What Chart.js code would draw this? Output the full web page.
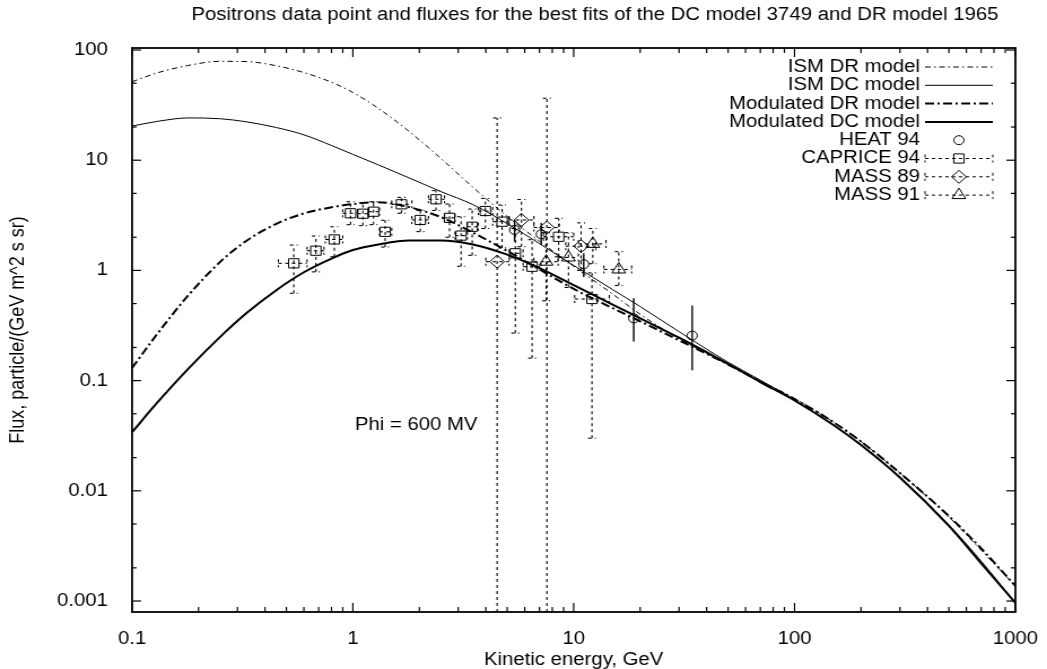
<!DOCTYPE html>
<html>
<head>
<meta charset="utf-8">
<script src="https://cdn.jsdelivr.net/npm/chart.js@4.4.0/dist/chart.umd.min.js"></script>
<style>
  html, body { margin: 0; padding: 0; background: #fff; }
  #chart { display: block; }
</style>
</head>
<body>
<canvas id="chart" width="927" height="669" style="width:1047px;height:669px"></canvas>
<script>
// model curves (kinetic energy in GeV, flux)
const energy = [0.1, 0.13, 0.18, 0.25, 0.33, 0.45, 0.6, 0.8, 1, 1.3, 1.8, 2.5, 3.5, 5, 7, 10, 15, 20, 30, 50, 70, 100, 150, 200, 300, 500, 700, 1000];
const ismDR = [51.5, 62, 72.5, 79, 78.5, 72, 62.4, 51, 41.2, 29.7, 18.2, 10.4, 5.67, 3.09, 1.84, 1.09, 0.61, 0.4, 0.24, 0.14, 0.099, 0.069, 0.042, 0.028, 0.0145, 0.0058, 0.0029, 0.00137];
const ismDC = [20.4, 22.5, 24.2, 23.8, 22.3, 19.8, 17, 13.6, 11.3, 9.1, 6.9, 5.2, 3.95, 2.66, 1.75, 1.11, 0.67, 0.47, 0.278, 0.147, 0.101, 0.067, 0.0395, 0.026, 0.0132, 0.0049, 0.0023, 0.00096];
const modDR = [0.13, 0.265, 0.596, 1.19, 1.86, 2.65, 3.29, 3.74, 4.0, 4.15, 3.75, 3.05, 2.2, 1.5, 1.02, 0.68, 0.455, 0.345, 0.232, 0.14, 0.098, 0.068, 0.042, 0.028, 0.0145, 0.0059, 0.003, 0.00137];
const modDC = [0.034, 0.063, 0.1285, 0.248, 0.41, 0.662, 0.962, 1.28, 1.53, 1.72, 1.87, 1.87, 1.72, 1.39, 1.05, 0.736, 0.49, 0.368, 0.245, 0.142, 0.097, 0.066, 0.0395, 0.026, 0.0132, 0.0048, 0.0022, 0.00096];

// HEAT 94
const heatE = [5.4, 7.13, 11.1, 18.7, 34.4];
const heatF = [2.33, 2.13, 1.14, 0.367, 0.256];
const heatFlo = [1.83, 1.7, 0.87, 0.226, 0.124];
const heatFhi = [2.87, 2.7, 1.43, 0.56, 0.48];

// CAPRICE 94
const capE = [0.54, 0.68, 0.824, 0.976, 1.11, 1.24, 1.40, 1.66, 2.02, 2.38, 2.74, 3.09, 3.47, 3.98, 4.74, 5.44, 6.48, 8.55, 12.1];
const capF = [1.16, 1.51, 1.91, 3.30, 3.27, 3.41, 2.24, 3.98, 2.87, 4.42, 3.0, 2.07, 2.49, 3.46, 2.77, 1.43, 1.08, 2.02, 0.55];
const capFlo = [0.62, 0.97, 1.33, 2.6, 2.55, 2.6, 1.63, 3.3, 2.25, 3.5, 2.0, 1.09, 1.37, 2.4, 1.6, 0.27, 0.16, 1.33, 0.03];
const capFhi = [1.70, 2.05, 2.49, 4.2, 4.1, 4.2, 2.85, 4.6, 3.5, 5.3, 4.0, 3.07, 3.6, 4.5, 3.92, 2.4, 1.9, 2.97, 0.95];
const capElo = [0.46, 0.62, 0.75, 0.9, 1.05, 1.18, 1.32, 1.5, 1.85, 2.2, 2.6, 2.9, 3.3, 3.7, 4.3, 5.1, 5.9, 7.3, 10.1];
const capEhi = [0.62, 0.74, 0.9, 1.05, 1.18, 1.32, 1.5, 1.85, 2.2, 2.6, 2.9, 3.3, 3.7, 4.3, 5.1, 5.9, 7.1, 10, 14.5];

// MASS 89 (lower bound 0 = bar reaches the bottom)
const m89E = [4.5, 5.8, 7.56, 10.8];
const m89F = [1.2, 2.87, 2.45, 1.66];
const m89Flo = [0, 1.64, 0, 1.0];
const m89Fhi = [24.2, 4.4, 36.5, 2.7];
const m89Elo = [4.0, 5.1, 6.6, 9.2];
const m89Ehi = [5.1, 6.6, 8.6, 12.6];

// MASS 91
const m91E = [7.5, 9.47, 12.2, 16.0];
const m91F = [1.2, 1.31, 1.74, 1.02];
const m91Flo = [0.53, 0.7, 1.15, 0.73];
const m91Fhi = [2.2, 2.2, 2.4, 1.48];
const m91Elo = [6.6, 8.5, 10.5, 13.7];
const m91Ehi = [8.5, 10.5, 14, 18.3];

const xTicks = [0.1, 1, 10, 100, 1000];
const xTickLabels = ['0.1', '1', '10', '100', '1000'];
const yTicks = [0.001, 0.01, 0.1, 1, 10, 100];
const yTickLabels = ['0.001', '0.01', '0.1', '1', '10', '100'];

const FONT = 'Liberation Sans, Arial, Helvetica, sans-serif';
const pts = (xs, ys) => xs.map((v, i) => ({ x: v, y: ys[i] }));

function curve(label, ys, width, dash) {
  return {
    label, data: pts(energy, ys), showLine: true, borderColor: '#000', backgroundColor: '#000',
    borderWidth: width, borderDash: dash, pointRadius: 0, cubicInterpolationMode: 'monotone'
  };
}
function points(label, xs, ys, style, r, err) {
  return Object.assign({
    label, data: pts(xs, ys), showLine: false, pointStyle: style, pointRadius: r,
    pointBorderColor: '#000', pointBackgroundColor: 'rgba(0,0,0,0)', pointBorderWidth: 1,
    borderColor: '#000', backgroundColor: 'rgba(0,0,0,0)'
  }, err);
}

// error bars, drawn through the scales
const errorBars = {
  id: 'errorBars',
  beforeDatasetsDraw(chart) {
    const { ctx, chartArea: a, scales: { x, y } } = chart;
    ctx.save();
    ctx.beginPath();
    ctx.rect(a.left, a.top, a.width, a.height);
    ctx.clip();
    ctx.strokeStyle = '#000';
    const seg = (x1, y1, x2, y2) => { ctx.beginPath(); ctx.moveTo(x1, y1); ctx.lineTo(x2, y2); ctx.stroke(); };
    chart.data.datasets.forEach(ds => {
      if (!ds.yLo) return;
      ctx.setLineDash(ds.errDash || []);
      ctx.lineWidth = ds.errWidth || 1;
      ds.data.forEach((p, i) => {
        const px = x.getPixelForValue(p.x), py = y.getPixelForValue(p.y);
        const y1 = y.getPixelForValue(ds.yLo[i]), y2 = y.getPixelForValue(ds.yHi[i]);
        seg(px, y1, px, y2);
        if (ds.caps) { seg(px - 3.5, y1, px + 3.5, y1); seg(px - 3.5, y2, px + 3.5, y2); }
        if (ds.xLo) {
          const x1 = x.getPixelForValue(ds.xLo[i]), x2 = x.getPixelForValue(ds.xHi[i]);
          seg(x1, py, x2, py);
          seg(x1, py - 4, x1, py + 4); seg(x2, py - 4, x2, py + 4);
        }
      });
    });
    ctx.restore();
  }
};

// border with inward ticks on all four sides
const frame = {
  id: 'frame',
  afterDatasetsDraw(chart) {
    const { ctx, chartArea: a, scales: { x, y } } = chart;
    const xMinor = [], yMinor = [];
    [0.1, 1, 10, 100].forEach(d => { for (let k = 2; k <= 9; k++) xMinor.push(d * k); });
    [0.001, 0.01, 0.1, 1, 10].forEach(d => { yMinor.push(d * 2, d * 5); });
    ctx.save();
    ctx.strokeStyle = '#000';
    ctx.lineWidth = 1.2;
    const seg = (x1, y1, x2, y2) => { ctx.beginPath(); ctx.moveTo(x1, y1); ctx.lineTo(x2, y2); ctx.stroke(); };
    xTicks.forEach(v => { const p = x.getPixelForValue(v); seg(p, a.bottom, p, a.bottom - 9); seg(p, a.top, p, a.top + 9); });
    xMinor.forEach(v => { const p = x.getPixelForValue(v); seg(p, a.bottom, p, a.bottom - 5); seg(p, a.top, p, a.top + 5); });
    yTicks.forEach(v => { const p = y.getPixelForValue(v); seg(a.left, p, a.left + 8, p); seg(a.right, p, a.right - 8, p); });
    yMinor.forEach(v => { const p = y.getPixelForValue(v); seg(a.left, p, a.left + 4, p); seg(a.right, p, a.right - 4, p); });
    ctx.lineWidth = 1.8;
    ctx.strokeRect(a.left, a.top, a.width, a.height);
    ctx.restore();
  }
};

function marker(ctx, style, cx, cy, r) {
  ctx.beginPath();
  if (style === 'circle') ctx.arc(cx, cy, r, 0, Math.PI * 2);
  else if (style === 'rect') { const s = r * Math.SQRT1_2; ctx.rect(cx - s, cy - s, 2 * s, 2 * s); }
  else if (style === 'rectRot') { ctx.moveTo(cx - r, cy); ctx.lineTo(cx, cy - r); ctx.lineTo(cx + r, cy); ctx.lineTo(cx, cy + r); ctx.closePath(); }
  else if (style === 'triangle') {
    ctx.moveTo(cx, cy - r); ctx.lineTo(cx + r * 0.866, cy + r * 0.5); ctx.lineTo(cx - r * 0.866, cy + r * 0.5); ctx.closePath();
  }
  ctx.stroke();
}

// gnuplot style key, text right aligned with the sample to its right
const key = {
  id: 'key',
  afterDraw(chart) {
    const { ctx } = chart;
    ctx.save();
    ctx.font = '18px ' + FONT;
    ctx.fillStyle = '#000';
    ctx.strokeStyle = '#000';
    ctx.textAlign = 'right';
    ctx.textBaseline = 'middle';
    const tx = 814.6, s1 = 819, s2 = 879, sc = 849;
    chart.data.datasets.forEach((ds, i) => {
      const yy = 67 + i * 18.3;
      ctx.fillText(ds.label, tx, yy);
      ctx.setLineDash([]);
      if (ds.showLine) {
        ctx.lineWidth = ds.borderWidth;
        ctx.setLineDash(ds.borderDash || []);
        ctx.beginPath(); ctx.moveTo(s1, yy); ctx.lineTo(s2, yy); ctx.stroke();
      } else {
        ctx.lineWidth = 1;
        if (ds.xLo) {
          ctx.setLineDash(ds.errDash);
          ctx.beginPath(); ctx.moveTo(s1, yy); ctx.lineTo(s2, yy); ctx.stroke();
          ctx.beginPath(); ctx.moveTo(s1, yy - 4); ctx.lineTo(s1, yy + 4); ctx.moveTo(s2, yy - 4); ctx.lineTo(s2, yy + 4); ctx.stroke();
          ctx.setLineDash([]);
        }
        marker(ctx, ds.pointStyle, sc, yy, ds.pointRadius);
      }
    });
    ctx.restore();
  }
};

const texts = {
  id: 'texts',
  afterDraw(chart) {
    const { ctx } = chart;
    ctx.save();
    ctx.font = '18px ' + FONT;
    ctx.fillStyle = '#000';
    ctx.textBaseline = 'middle';
    ctx.textAlign = 'center';
    ctx.fillText('Positrons data point and fluxes for the best fits of the DC model 3749 and DR model 1965', 526.8, 15);
    ctx.textAlign = 'left';
    ctx.fillText('Phi = 600 MV', 314.3, 425);
    ctx.restore();
  }
};

new Chart(document.getElementById('chart'), {
  type: 'scatter',
  data: {
    datasets: [
      curve('ISM DR model', ismDR, 1, [5, 3, 1.5, 3]),
      curve('ISM DC model', ismDC, 1, []),
      curve('Modulated DR model', modDR, 2, [8, 3, 2, 3]),
      curve('Modulated DC model', modDC, 2, []),
      points('HEAT 94', heatE, heatF, 'circle', 4.5, { yLo: heatFlo, yHi: heatFhi, caps: false, errDash: [], errWidth: 1.4 }),
      points('CAPRICE 94', capE, capF, 'rect', 6.5, { yLo: capFlo, yHi: capFhi, xLo: capElo, xHi: capEhi, caps: true, errDash: [3, 3], errWidth: 1.1 }),
      points('MASS 89', m89E, m89F, 'rectRot', 6.5, { yLo: m89Flo, yHi: m89Fhi, xLo: m89Elo, xHi: m89Ehi, caps: true, errDash: [3, 3], errWidth: 1.1 }),
      points('MASS 91', m91E, m91F, 'triangle', 7, { yLo: m91Flo, yHi: m91Fhi, xLo: m91Elo, xHi: m91Ehi, caps: true, errDash: [3, 3], errWidth: 1.1 })
    ]
  },
  options: {
    responsive: false,
    animation: false,
    layout: { padding: { top: 48, right: 23.9, left: 0, bottom: 0 } },
    plugins: { legend: { display: false }, tooltip: { enabled: false }, title: { display: false } },
    scales: {
      x: {
        type: 'logarithmic', min: 0.1, max: 1000,
        afterBuildTicks: s => { s.ticks = xTicks.map(v => ({ value: v })); },
        afterFit: s => { s.height = 57; },
        grid: { display: false }, border: { display: false },
        ticks: { callback: (v, i) => xTickLabels[i], color: '#000', font: { family: FONT, size: 18 }, padding: 8, maxRotation: 0, autoSkip: false },
        title: { display: true, text: 'Kinetic energy, GeV', color: '#000', font: { family: FONT, size: 18, lineHeight: 1 }, padding: 0 }
      },
      y: {
        type: 'logarithmic', min: 0.000795, max: 104.3,
        afterBuildTicks: s => { s.ticks = yTicks.map(v => ({ value: v })); },
        afterFit: s => { s.width = 116.9; },
        grid: { display: false }, border: { display: false },
        ticks: { callback: (v, i) => yTickLabels[i], color: '#000', font: { family: FONT, size: 18 }, padding: 13.3, autoSkip: false },
        title: { display: true, text: 'Flux, particle/(GeV m^2 s sr)', color: '#000', font: { family: FONT, size: 18, lineHeight: 1 }, padding: { top: 7, bottom: 0 } }
      }
    }
  },
  plugins: [errorBars, frame, key, texts]
});
</script>
</body>
</html>
